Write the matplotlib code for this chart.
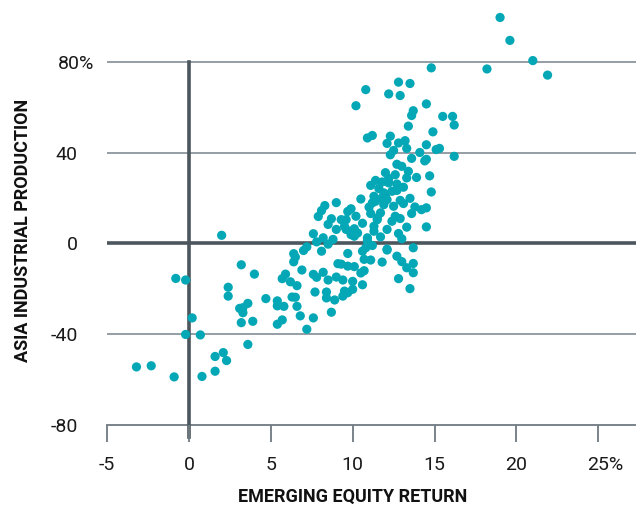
import matplotlib
matplotlib.use("Agg")
import matplotlib.pyplot as plt
import matplotlib.transforms as mtransforms
import numpy as np

# Emerging equity return (%) and Asia industrial production (%)
equity_return = [
    19.0, 19.6, 21.0, 21.9, 18.2, 14.8, 12.8, 13.5, 10.8, 12.2, 12.9, 10.2, 14.5, 13.7, 13.6,
    15.5, 16.1, 16.2, 13.4, 14.9, 10.9, 11.2, 12.3, 12.1, 12.8, 13.2, 13.3, 14.5, 15.1, 15.3,
    12.5, 12.3, 14.1, 16.2, 13.6, 14.4, 14.5, 12.7, 13.0, 12.0, 12.6, 13.4, 13.3, 13.9, 14.7,
    12.2, 12.2, 12.7, 11.8, 11.1, 14.8, 10.5, 11.3, 11.4, 11.2, 11.9, 12.4, 12.7, 11.8, 12.1,
    12.9, 13.1, 13.5, 13.8, 14.2, 14.5, 12.5, 12.6, 11.7, 11.5, 11.1, 13.6, 9.7, 9.9, 10.2,
    10.1, 11.3, 12.1, 13.3, 14.5, 11.9, 11.5, 9.3, 9.6, 11.3, 9.5, 9.6, 10.1, 10.9, 12.8,
    13.0, 11.2, 10.8, 13.7, 9.7, 10.6, 12.1, 10.7, 11.1, 11.8, 12.7, 13.0, 13.7, 13.3, 13.7,
    9.7, 10.1, 9.3, 10.7, 12.8, 9.4, 10.0, 10.6, 13.5, 9.5, 9.7, 10.0, 9.4, 10.9, 8.3,
    9.0, 8.1, 7.9, 8.5, 9.0, 7.6, 8.2, 8.8, 7.8, 7.0, 7.2, 8.1, 6.4, 6.5, 6.4,
    6.9, 7.6, 7.8, 8.2, 8.5, 9.0, 7.7, 8.4, 8.4, 8.9, 8.7, 9.1, 5.7, 5.9, 6.2,
    6.6, 6.6, 6.8, 6.3, 6.5, 7.2, 7.6, 5.4, 5.4, 5.8, 5.7, 5.4, 4.7, 2.0, 3.2,
    4.0, -0.8, -0.2, 2.4, 2.4, 3.6, 3.1, 3.3, 3.3, 3.2, 3.9, 0.2, -0.2, 0.7, 3.6,
    1.6, 2.1, 2.3, 1.6, 0.8, -0.9, -3.2, -2.3, 12.1, 10.3, 8.5,
    11.6, 12.0, 11.0, 10.6, 12.4, 13.1, 11.7, 12.9, 10.5, 9.9, 8.7, 11.4,
]
industrial_production = [
    99.6, 89.5, 80.6, 74.2, 76.9, 77.4, 71.1, 70.5, 67.8, 65.9, 65.2, 60.7, 61.5, 58.5, 56.4,
    56.0, 56.0, 52.2, 51.7, 49.2, 46.5, 47.6, 47.3, 44.1, 44.3, 45.3, 41.9, 43.5, 41.4, 41.9,
    41.0, 39.1, 40.1, 38.4, 37.5, 36.4, 37.1, 34.9, 34.0, 31.2, 30.3, 31.8, 28.9, 29.1, 29.8,
    28.7, 26.7, 26.2, 27.1, 25.6, 22.7, 19.6, 20.8, 18.6, 17.9, 22.3, 23.0, 23.4, 20.1, 19.3,
    19.0, 17.6, 19.9, 16.1, 14.9, 15.7, 16.4, 12.0, 13.5, 11.3, 13.2, 13.2, 14.1, 15.3, 12.0,
    6.5, 7.6, 6.2, 7.2, 7.3, 17.1, 10.5, 10.5, 10.5, 5.4, 7.6, 6.2, 3.2, 2.5, 4.4,
    2.1, -0.9, -1.9, -1.9, -4.4, -3.4, -2.9, -7.0, -7.3, -8.2, -5.6, -8.0, -8.8, -10.7, -12.9,
    -10.0, -10.2, -9.1, -12.0, -15.5, -16.1, -16.7, -18.2, -19.9, -21.0, -21.7, -20.2, -23.2, 1.0, 16.7,
    18.0, 14.5, 11.9, 8.4, 6.2, 4.3, 2.5, 1.8, 0.7, -3.1, -1.5, -3.4, -4.5, -6.0, -8.1,
    -11.7, -13.6, -14.9, -12.7, -16.1, -14.8, -21.4, -21.4, -24.0, -24.9, -30.3, -8.9, -15.5, -13.5, -16.9,
    -18.6, -27.7, -31.9, -23.6, -23.7, -37.8, -32.8, -27.5, -25.3, -27.7, -33.7, -35.6, -24.3, 3.6, -9.4,
    -13.5, -15.4, -16.1, -19.3, -23.2, -26.4, -28.6, -28.3, -30.5, -34.9, -34.3, -32.8, -40.1, -40.3, -44.5,
    -49.8, -48.1, -51.6, -56.3, -58.6, -58.8, -54.4, -53.9, -2.5, 4.6, -0.3,
    24.2, 21.5, 16.0, 8.9, 9.8, 24.8, 2.9, 11.0, -13.0, 3.9, 10.9, 27.8,
]

x_ticks = [-5, 0, 5, 10, 15, 20, 25]
x_tick_labels = ["-5", "0", "5", "10", "15", "20", "25%"]
y_ticks = [-80, -40, 0, 40, 80]
y_tick_labels = ["-80", "-40", "0", "40", "80%"]

x_title = "EMERGING EQUITY RETURN"
y_title = "ASIA INDUSTRIAL PRODUCTION"

plt.rcParams['font.family'] = ['Roboto', 'DejaVu Sans']

W, H = 636, 508
fig = plt.figure(figsize=(W / 100, H / 100), dpi=100)
ax = fig.add_axes([107 / W, 83 / H, 1 - 107 / W, 425 / H])

ax.set_xlim(-5, 27.3)
ax.set_ylim(-80, 107.3)

grid_color = "#8c969d"
dark = "#4b565d"

# gridlines
for yv in y_ticks:
    if yv == 0:
        ax.axhline(yv, color=dark, lw=2.6, zorder=1)
    elif yv == -80:
        ax.axhline(yv, color="#6f7a81", lw=1.3, zorder=1, clip_on=False)
    else:
        ax.axhline(yv, color=grid_color, lw=1.3, zorder=1)

# vertical zero line, extending through the tick area
ax.plot([0, 0], [-12 / 425, (80 + 80) / (107.3 + 80)], transform=ax.get_xaxis_transform(),
        color=dark, lw=2.6, zorder=1, clip_on=False)

ax.scatter(equity_return, industrial_production, s=44, color="#03a7b5",
           edgecolors="none", zorder=3, clip_on=False)

for s in ax.spines.values():
    s.set_visible(False)

ax.set_xticks(x_ticks)
ax.set_xticklabels(x_tick_labels)
ax.set_yticks(y_ticks)
ax.set_yticklabels(y_tick_labels)
ax.tick_params(axis='x', length=12, width=1.3, color="#6f7a81", pad=10,
               labelsize=14, labelcolor="#1a1a1a")
ax.tick_params(axis='y', length=0, pad=21, labelsize=14, labelcolor="#1a1a1a")

# let the "%" sign hang outside the aligned numbers
renderer = fig.canvas.get_renderer()
tmp = fig.text(0, 0, "%", fontsize=14)
pct_w = tmp.get_window_extent(renderer).width / fig.dpi
tmp.remove()
for lab in ax.get_yticklabels():
    if lab.get_text().endswith("%"):
        lab.set_transform(lab.get_transform() +
                          mtransforms.ScaledTranslation(pct_w + 0.02, 0, fig.dpi_scale_trans))
for lab in ax.get_xticklabels():
    if lab.get_text().endswith("%"):
        lab.set_transform(lab.get_transform() +
                          mtransforms.ScaledTranslation(pct_w / 2, 0, fig.dpi_scale_trans))

fig.text(353 / W, 1 - 497 / H, x_title, ha='center', va='center',
         fontsize=13, fontweight='bold', color="#111111")
fig.text(23 / W, 1 - 230 / H, y_title, ha='center', va='center', rotation=90,
         fontsize=13, fontweight='bold', color="#111111")

fig.savefig("out.png", dpi=100)
